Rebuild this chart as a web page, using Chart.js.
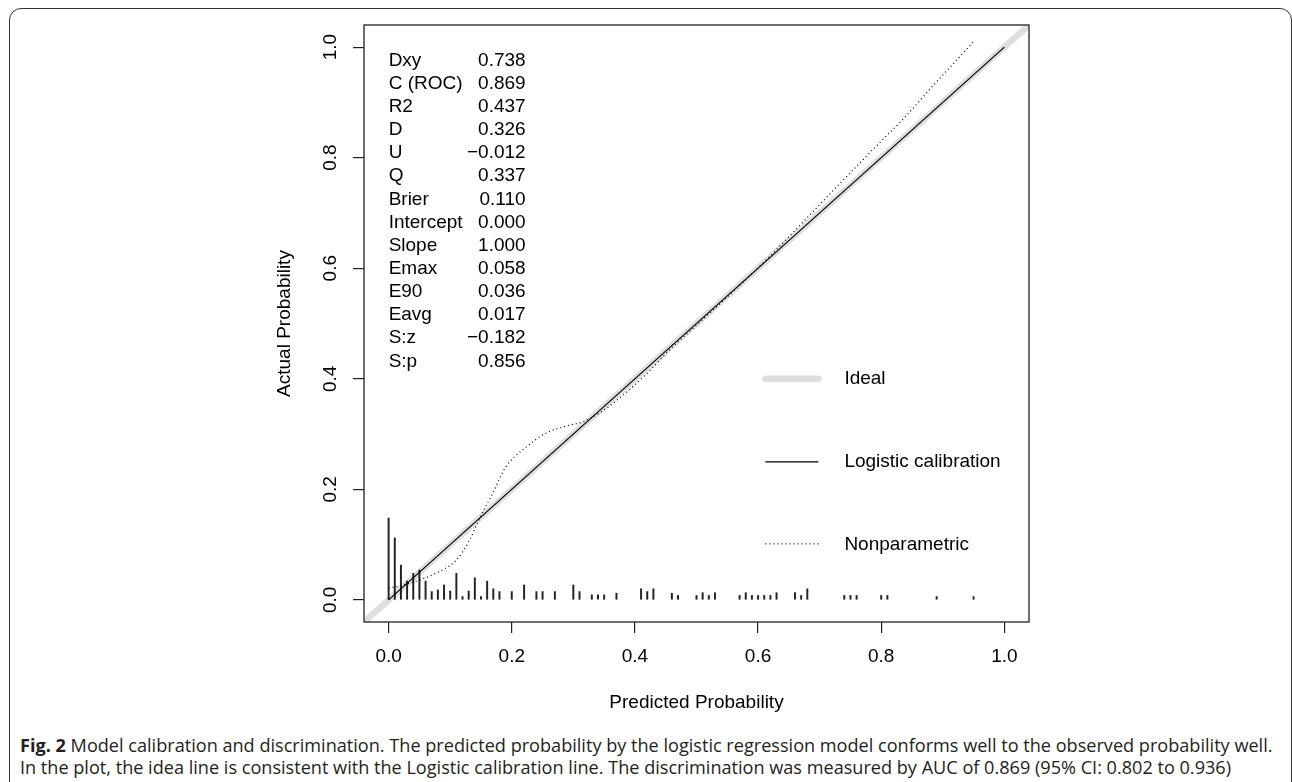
<!DOCTYPE html>
<html>
<head>
<meta charset="utf-8">
<script src="https://cdn.jsdelivr.net/npm/chart.js@4.4.1/dist/chart.umd.min.js"></script>
<style>
html, body { margin: 0; padding: 0; background: #fff; }
body { width: 1292px; height: 782px; position: relative; overflow: hidden; }
#frame { position: absolute; left: 9px; top: 8px; width: 1283px; height: 840px; border: 1.5px solid #333;
         border-radius: 12px; box-sizing: border-box; }
#wrap { position: absolute; left: 0; top: 0; width: 1292px; height: 730px; }
.cap { position: absolute; left: 20px; font-family: 'Open Sans'; font-size: 17.5px; line-height: 22px;
       color: #231f20; white-space: nowrap; transform-origin: 0 50%; }
.cap b { font-weight: 700; }
</style>
</head>
<body>
<div id="frame"></div>
<div id="wrap"><canvas id="calChart" width="1292" height="730"></canvas></div>
<div class="cap" id="cap1" style="top:734px"><b>Fig. 2</b> Model calibration and discrimination. The predicted probability by the logistic regression model conforms well to the observed probability well.</div>
<div class="cap" id="cap2" style="top:756px">In the plot, the idea line is consistent with the Logistic calibration line. The discrimination was measured by AUC of 0.869 (95% CI: 0.802 to 0.936)</div>

<script>
// axis ticks
const xTicks = [0, 0.2, 0.4, 0.6, 0.8, 1.0];
const yTicks = [0, 0.2, 0.4, 0.6, 0.8, 1.0];

// spike histogram of predicted probabilities
const spikeX = [0.00, 0.01, 0.02, 0.03, 0.04, 0.05, 0.06, 0.07, 0.08, 0.09, 0.10, 0.11, 0.12, 0.13, 0.14, 0.15,
    0.16, 0.17, 0.18, 0.20, 0.22, 0.24, 0.25, 0.27, 0.30, 0.31, 0.33, 0.34, 0.35, 0.37, 0.41, 0.42, 0.43,
    0.46, 0.47, 0.50, 0.51, 0.52, 0.53, 0.57, 0.58, 0.59, 0.60, 0.61, 0.62, 0.63, 0.66, 0.67, 0.68,
    0.74, 0.75, 0.76, 0.80, 0.81, 0.89, 0.95];
const spikeH = [0.148, 0.112, 0.063, 0.034, 0.048, 0.054, 0.034, 0.015, 0.018, 0.027, 0.016, 0.048, 0.006, 0.016, 0.040, 0.006,
    0.034, 0.020, 0.015, 0.015, 0.027, 0.015, 0.015, 0.015, 0.027, 0.015, 0.009, 0.009, 0.009, 0.012, 0.020, 0.015, 0.020,
    0.012, 0.008, 0.008, 0.013, 0.008, 0.013, 0.008, 0.013, 0.008, 0.008, 0.008, 0.008, 0.013, 0.013, 0.008, 0.020,
    0.008, 0.008, 0.008, 0.008, 0.008, 0.006, 0.006];

// nonparametric (loess) calibration curve
const npX = [0, 0.02, 0.05, 0.08, 0.11, 0.13, 0.148, 0.17, 0.19, 0.224, 0.256, 0.29, 0.315, 0.345, 0.375,
    0.42, 0.456, 0.5, 0.55, 0.614, 0.67, 0.73, 0.80, 0.84, 0.88, 0.951];
const npY = [0.021, 0.026, 0.036, 0.05, 0.072, 0.105, 0.148, 0.195, 0.24, 0.277, 0.302, 0.315, 0.322, 0.34, 0.365,
    0.41, 0.452, 0.497, 0.548, 0.616, 0.68, 0.75, 0.83, 0.875, 0.925, 1.011];

// logistic calibration and ideal lines
const logitX = [0, 1];
const logitY = [0, 1];
const idealX = [-0.04, 1.04];
const idealY = [-0.04, 1.04];

// statistics block
const statNames = ['Dxy', 'C (ROC)', 'R2', 'D', 'U', 'Q', 'Brier', 'Intercept', 'Slope', 'Emax', 'E90', 'Eavg', 'S:z', 'S:p'];
const statValues = ['0.738', '0.869', '0.437', '0.326', '\u22120.012', '0.337', '0.110', '0.000', '1.000', '0.058',
    '0.036', '0.017', '\u22120.182', '0.856'];

const legendLabels = ['Ideal', 'Logistic calibration', 'Nonparametric'];

const FONT = "'Liberation Sans', Arial, sans-serif";
Chart.defaults.font.family = FONT;
Chart.defaults.font.size = 19;
Chart.defaults.color = '#000';

function pts(xs, ys) {
    return xs.map(function(x, i) { return { x: x, y: ys[i] }; });
}

// box, y tick labels, titles, stats text and legend (R style)
const extrasPlugin = {
    id: 'extras',
    afterDatasetsDraw: function(chart) {
        const ctx = chart.ctx;
        const a = chart.chartArea;
        const xs = chart.scales.x;
        const ys = chart.scales.y;
        ctx.save();
        ctx.strokeStyle = '#222';
        ctx.lineWidth = 1.3;
        ctx.strokeRect(a.left, a.top, a.right - a.left, a.bottom - a.top);

        ctx.fillStyle = '#000';
        ctx.font = '19px ' + FONT;
        ctx.textAlign = 'center';
        ctx.textBaseline = 'middle';

        // y tick labels, rotated like R
        yTicks.forEach(function(v) {
            ctx.save();
            ctx.translate(a.left - 33, ys.getPixelForValue(v));
            ctx.rotate(-Math.PI / 2);
            ctx.fillText(v.toFixed(1), 0, 0);
            ctx.restore();
        });

        // axis titles
        ctx.save();
        ctx.translate(a.left - 79, (a.top + a.bottom) / 2);
        ctx.rotate(-Math.PI / 2);
        ctx.fillText('Actual Probability', 0, 0);
        ctx.restore();
        ctx.fillText('Predicted Probability', (a.left + a.right) / 2, a.bottom + 81);

        // stats block
        const sx = xs.getPixelForValue(0);
        const sy = ys.getPixelForValue(0.976);
        statNames.forEach(function(name, i) {
            const y = sy + i * 23.15;
            ctx.textAlign = 'left';
            ctx.fillText(name, sx, y);
            ctx.textAlign = 'right';
            ctx.fillText(statValues[i], sx + 137, y);
        });

        // legend
        const lx = xs.getPixelForValue(0.607);
        const ly = ys.getPixelForValue(0.40);
        const step = 83;
        ctx.lineCap = 'round';
        ctx.strokeStyle = '#dedede';
        ctx.lineWidth = 6.5;
        ctx.beginPath(); ctx.moveTo(lx + 3, ly); ctx.lineTo(lx + 56, ly); ctx.stroke();
        ctx.lineCap = 'butt';
        ctx.strokeStyle = '#000';
        ctx.lineWidth = 1.2;
        ctx.beginPath(); ctx.moveTo(lx + 3, ly + step); ctx.lineTo(lx + 56, ly + step); ctx.stroke();
        ctx.setLineDash([1, 3]);
        ctx.beginPath(); ctx.moveTo(lx + 3, ly + step * 2 - 1); ctx.lineTo(lx + 56, ly + step * 2 - 1); ctx.stroke();
        ctx.setLineDash([]);
        ctx.textAlign = 'left';
        legendLabels.forEach(function(t, i) {
            ctx.fillText(t, lx + 82, ly + i * step);
        });
        ctx.restore();
    }
};

new Chart(document.getElementById('calChart'), {
    type: 'scatter',
    data: {
        datasets: [
            {
                type: 'line',
                label: 'Ideal',
                data: pts(idealX, idealY),
                borderColor: '#dedede',
                borderWidth: 6.5,
                pointRadius: 0,
                clip: 0,
                order: 4
            },
            {
                type: 'bar',
                label: 'spikes',
                data: pts(spikeX, spikeH),
                backgroundColor: '#222',
                barThickness: 1.3,
                order: 3
            },
            {
                type: 'line',
                label: 'Nonparametric',
                data: pts(npX, npY),
                borderColor: '#000',
                borderWidth: 1.2,
                borderDash: [1, 3],
                cubicInterpolationMode: 'monotone',
                pointRadius: 0,
                clip: 0,
                order: 2
            },
            {
                type: 'line',
                label: 'Logistic calibration',
                data: pts(logitX, logitY),
                borderColor: '#000',
                borderWidth: 1.2,
                pointRadius: 0,
                clip: 0,
                order: 1
            }
        ]
    },
    options: {
        responsive: false,
        animation: false,
        events: [],
        layout: { padding: { top: 25, right: 263, left: 0, bottom: 0 } },
        plugins: {
            legend: { display: false },
            tooltip: { enabled: false }
        },
        scales: {
            x: {
                type: 'linear',
                min: -0.04,
                max: 1.04,
                offset: false,
                afterBuildTicks: function(s) { s.ticks = xTicks.map(function(v) { return { value: v }; }); },
                afterFit: function(s) { s.height = 730 - 622; },
                border: { display: false },
                grid: { offset: false, drawOnChartArea: false, drawTicks: true, tickLength: 11, color: '#222', lineWidth: 1.2 },
                ticks: { padding: 12, color: '#000', maxRotation: 0, callback: function(v) { return v.toFixed(1); } }
            },
            y: {
                type: 'linear',
                min: -0.04,
                max: 1.04,
                afterBuildTicks: function(s) { s.ticks = yTicks.map(function(v) { return { value: v }; }); },
                afterFit: function(s) { s.width = 364; },
                border: { display: false },
                grid: { drawOnChartArea: false, drawTicks: true, tickLength: 11, color: '#222', lineWidth: 1.2 },
                ticks: { display: false }
            }
        }
    },
    plugins: [extrasPlugin]
});

// fit caption lines to the measured text width
const cap1 = document.getElementById('cap1');
const cap2 = document.getElementById('cap2');
const k = 1253 / cap1.offsetWidth;
cap1.style.transform = 'scaleX(' + k + ')';
cap2.style.transform = 'scaleX(' + k + ')';
</script>
</body>
</html>
